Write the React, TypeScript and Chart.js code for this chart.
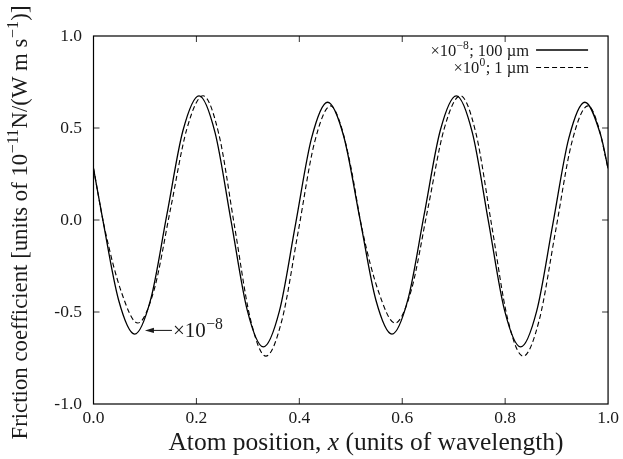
import React, { useEffect, useRef } from 'react';
import { Chart, registerables } from 'chart.js';

Chart.register(...registerables);

// ---- data ----
const solidX = [0, 0.0175, 0.04875, 0.08, 0.11125, 0.1425, 0.17375, 0.205, 0.23625, 0.2675, 0.29875, 0.33, 0.36125, 0.3925, 0.42375, 0.455, 0.48625, 0.5175, 0.54875, 0.58, 0.61125, 0.6425, 0.67375, 0.705, 0.73625, 0.7675, 0.79875, 0.83, 0.86125, 0.8925, 0.92375, 0.955, 0.98625, 1.0];
const solidY = [0.28, 0.01, -0.435, -0.62, -0.43, 0.0275, 0.485, 0.675, 0.475, -0.0075, -0.49, -0.69, -0.495, -0.025, 0.445, 0.64, 0.455, 0.01, -0.435, -0.62, -0.43, 0.0275, 0.485, 0.675, 0.475, -0.0075, -0.49, -0.69, -0.495, -0.025, 0.445, 0.64, 0.455, 0.28];

const dashedX = [0, 0.022, 0.054, 0.086, 0.1178, 0.1495, 0.1813, 0.213, 0.2435, 0.274, 0.3045, 0.335, 0.3665, 0.398, 0.4295, 0.461, 0.48, 0.5, 0.522, 0.554, 0.586, 0.6178, 0.6495, 0.6813, 0.713, 0.7435, 0.774, 0.8045, 0.835, 0.8665, 0.898, 0.9295, 0.961, 0.98, 1.0];
const dashedY = [0.28, -0.05, -0.39, -0.56, -0.379, 0.0575, 0.494, 0.675, 0.468, -0.0325, -0.533, -0.74, -0.541, -0.06, 0.421, 0.62, 0.52, 0.29, -0.05, -0.39, -0.56, -0.379, 0.0575, 0.494, 0.675, 0.468, -0.0325, -0.533, -0.74, -0.541, -0.06, 0.421, 0.62, 0.52, 0.28];

const seriesLabels = ['×10⁻⁸; 100 µm', '×10⁰; 1 µm'];

const xTickValues = [0, 0.2, 0.4, 0.6, 0.8, 1.0];
const xTickLabels = ['0.0', '0.2', '0.4', '0.6', '0.8', '1.0'];
const yTickValues = [-1.0, -0.5, 0.0, 0.5, 1.0];
const yTickLabels = ['-1.0', '-0.5', '0.0', '0.5', '1.0'];

const xTitleRuns = [{ t: 'Atom position, ' }, { t: 'x', i: true }, { t: ' (units of wavelength)' }];
const yTitleRuns = [{ t: 'Friction coefficient [units of 10⁻¹¹N/(W m s⁻¹)]' }];
const annotationRuns = [{ t: '×10⁻⁸' }];
const annotationPoint = { x: 0.1, y: -0.6 };

// ---- styling ----
const FONT = '"Liberation Serif", "Times New Roman", serif';
const TICK_LEN = 6;

type Run = { t: string; i?: boolean };
const SUP: Record<string, string> = {
  '⁻': '−', '⁰': '0', '¹': '1', '²': '2', '³': '3', '⁴': '4',
  '⁵': '5', '⁶': '6', '⁷': '7', '⁸': '8', '⁹': '9',
};

function segments(runs: Run[]) {
  const out: { t: string; i?: boolean; sup: boolean }[] = [];
  for (const r of runs) {
    let cur = '';
    let curSup = false;
    for (const ch of Array.from(r.t)) {
      const s = ch in SUP;
      const c = s ? SUP[ch] : ch;
      if (s !== curSup && cur) {
        out.push({ t: cur, i: r.i, sup: curSup });
        cur = '';
      }
      curSup = s;
      cur += c;
    }
    if (cur) out.push({ t: cur, i: r.i, sup: curSup });
  }
  return out;
}

function drawRich(ctx: CanvasRenderingContext2D, runs: Run[], x: number, y: number, size: number, align: 'left' | 'center' | 'right', supScale = 0.7) {
  const segs = segments(runs);
  const fontFor = (s: { i?: boolean; sup: boolean }) => `${s.i ? 'italic ' : ''}${s.sup ? size * supScale : size}px ${FONT}`;
  const widths = segs.map((s) => {
    ctx.font = fontFor(s);
    return ctx.measureText(s.t).width + (s.sup ? size * 0.04 : 0);
  });
  const total = widths.reduce((a, b) => a + b, 0);
  let cx = align === 'left' ? x : align === 'center' ? x - total / 2 : x - total;
  ctx.textBaseline = 'alphabetic';
  ctx.textAlign = 'left';
  segs.forEach((s, k) => {
    ctx.font = fontFor(s);
    ctx.fillText(s.t, cx + (s.sup ? size * 0.02 : 0), s.sup ? y - size * 0.4 : y);
    cx += widths[k];
  });
  return total;
}

const decorPlugin = {
  id: 'decor',
  afterDraw(chart: any) {
    const { ctx, chartArea: a, scales } = chart;
    const xs = scales.x;
    const ys = scales.y;
    ctx.save();
    // inward ticks on all four sides
    ctx.strokeStyle = '#333';
    ctx.lineWidth = 1;
    ctx.beginPath();
    xTickValues.forEach((v) => {
      const px = xs.getPixelForValue(v);
      if (px <= a.left + 1 || px >= a.right - 1) return;
      ctx.moveTo(px, a.bottom);
      ctx.lineTo(px, a.bottom - TICK_LEN);
      ctx.moveTo(px, a.top);
      ctx.lineTo(px, a.top + TICK_LEN);
    });
    yTickValues.forEach((v) => {
      const py = ys.getPixelForValue(v);
      if (py <= a.top + 1 || py >= a.bottom - 1) return;
      ctx.moveTo(a.left, py);
      ctx.lineTo(a.left + TICK_LEN, py);
      ctx.moveTo(a.right, py);
      ctx.lineTo(a.right - TICK_LEN, py);
    });
    ctx.stroke();
    // frame
    ctx.strokeStyle = '#000';
    ctx.lineWidth = 1.2;
    ctx.strokeRect(a.left, a.top, a.right - a.left, a.bottom - a.top);

    ctx.fillStyle = '#1a1a1a';
    // legend (text right-aligned, line sample to the right)
    const ds = chart.data.datasets;
    const rowsY = [a.top + 14, a.top + 31.5];
    ds.forEach((d: any, k: number) => {
      const yLine = rowsY[k];
      drawRich(ctx, [{ t: d.label }], a.right - 79, yLine + 5.5, 16.5, 'right');
      ctx.beginPath();
      ctx.strokeStyle = d.borderColor;
      ctx.lineWidth = d.borderWidth;
      ctx.setLineDash(d.borderDash || []);
      ctx.moveTo(a.right - 72, yLine);
      ctx.lineTo(a.right - 20, yLine);
      ctx.stroke();
      ctx.setLineDash([]);
    });

    // annotation arrow
    const tx = xs.getPixelForValue(annotationPoint.x);
    const ty = ys.getPixelForValue(annotationPoint.y);
    ctx.strokeStyle = '#111';
    ctx.lineWidth = 1;
    ctx.beginPath();
    ctx.moveTo(tx + 27, ty);
    ctx.lineTo(tx + 4, ty);
    ctx.stroke();
    ctx.beginPath();
    ctx.moveTo(tx, ty);
    ctx.lineTo(tx + 9, ty - 2.6);
    ctx.lineTo(tx + 9, ty + 2.6);
    ctx.closePath();
    ctx.fill();
    drawRich(ctx, annotationRuns, tx + 28, ty + 7, 21, 'left', 0.75);

    // axis titles
    drawRich(ctx, xTitleRuns, 366, 450, 25.5, 'center');
    ctx.save();
    ctx.translate(27, 222.5);
    ctx.rotate(-Math.PI / 2);
    drawRich(ctx, yTitleRuns, 0, 0, 22.8, 'center');
    ctx.restore();

    ctx.restore();
  },
};

export default function App() {
  const ref = useRef<HTMLCanvasElement | null>(null);
  useEffect(() => {
    document.body.style.margin = '0';
    const canvas = ref.current;
    if (!canvas) return;
    const chart = new Chart(canvas, {
      type: 'line',
      data: {
        datasets: [
          {
            label: seriesLabels[0],
            data: solidX.map((x, k) => ({ x, y: solidY[k] })),
            borderColor: '#000',
            borderWidth: 1.3,
            pointRadius: 0,
            cubicInterpolationMode: 'monotone',
            fill: false,
          },
          {
            label: seriesLabels[1],
            data: dashedX.map((x, k) => ({ x, y: dashedY[k] })),
            borderColor: '#000',
            borderWidth: 1.1,
            borderDash: [5, 3],
            pointRadius: 0,
            cubicInterpolationMode: 'monotone',
            fill: false,
          },
        ],
      },
      options: {
        animation: false,
        responsive: false,
        events: [],
        layout: { padding: { left: 0, right: 14, top: 36, bottom: 0 } },
        plugins: { legend: { display: false }, tooltip: { enabled: false }, title: { display: false } },
        scales: {
          x: {
            type: 'linear',
            min: 0,
            max: 1,
            grid: { display: false, drawTicks: false },
            border: { display: false },
            afterBuildTicks: (s: any) => { s.ticks = xTickValues.map((v) => ({ value: v })); },
            afterFit: (s: any) => { s.height = 55; },
            ticks: {
              padding: 4,
              maxRotation: 0,
              autoSkip: false,
              color: '#1a1a1a',
              font: { family: FONT, size: 17.5 },
              callback: (_v: any, i: number) => xTickLabels[i],
            },
          },
          y: {
            type: 'linear',
            min: -1,
            max: 1,
            grid: { display: false, drawTicks: false },
            border: { display: false },
            afterBuildTicks: (s: any) => { s.ticks = yTickValues.map((v) => ({ value: v })); },
            afterFit: (s: any) => { s.width = 93.5; },
            ticks: {
              padding: 11.5,
              autoSkip: false,
              color: '#1a1a1a',
              font: { family: FONT, size: 17.5 },
              callback: (_v: any, i: number) => yTickLabels[i],
            },
          },
        },
      },
      plugins: [decorPlugin],
    } as any);
    return () => chart.destroy();
  }, []);
  return (
    <div style={{ position: 'fixed', left: 0, top: 0, width: 623, height: 459, background: '#fff' }}>
      <canvas ref={ref} width={623} height={459} style={{ width: 623, height: 459 }} />
    </div>
  );
}
